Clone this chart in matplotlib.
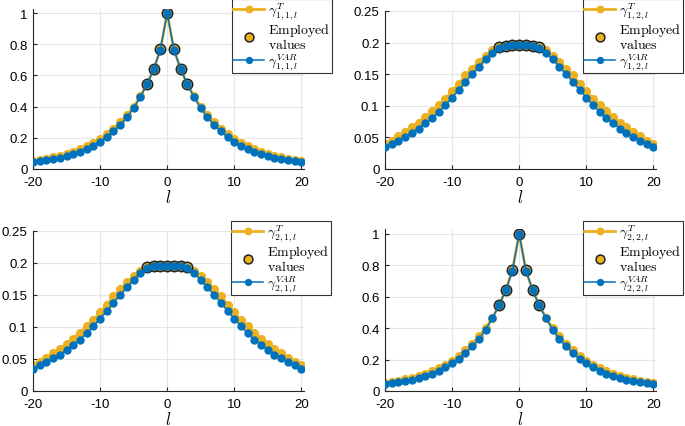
import numpy as np
import matplotlib.pyplot as plt

# lags shown on the x axis
lags = np.arange(-20, 21)

# gamma_{1,1,l} (l = -20 .. 20)
g11_T = [0.051, 0.058, 0.065, 0.074, 0.084, 0.096, 0.110, 0.127, 0.146, 0.168,
         0.193, 0.222, 0.258, 0.300, 0.347, 0.400, 0.466, 0.546, 0.642, 0.768,
         1.000,
         0.768, 0.642, 0.546, 0.466, 0.400, 0.347, 0.300, 0.258, 0.222, 0.193,
         0.168, 0.146, 0.127, 0.110, 0.096, 0.084, 0.074, 0.065, 0.058, 0.051]
g11_var = [0.043, 0.049, 0.056, 0.063, 0.072, 0.083, 0.095, 0.110, 0.128, 0.150,
           0.175, 0.206, 0.242, 0.284, 0.331, 0.390, 0.461, 0.544, 0.640, 0.766,
           1.000,
           0.766, 0.640, 0.544, 0.461, 0.390, 0.331, 0.284, 0.242, 0.206, 0.175,
           0.150, 0.128, 0.110, 0.095, 0.083, 0.072, 0.063, 0.056, 0.049, 0.043]

# gamma_{1,2,l}
g12_T = [0.040, 0.045, 0.052, 0.059, 0.066, 0.073, 0.082, 0.091, 0.101, 0.111,
         0.123, 0.135, 0.148, 0.159, 0.170, 0.179, 0.188, 0.193, 0.195, 0.196,
         0.196,
         0.196, 0.195, 0.193, 0.188, 0.179, 0.170, 0.159, 0.148, 0.135, 0.123,
         0.111, 0.101, 0.091, 0.082, 0.073, 0.066, 0.059, 0.052, 0.045, 0.040]
g12_var = [0.035, 0.040, 0.045, 0.051, 0.057, 0.064, 0.072, 0.080, 0.090, 0.101,
           0.113, 0.125, 0.138, 0.150, 0.162, 0.174, 0.184, 0.192, 0.195, 0.196,
           0.196,
           0.196, 0.195, 0.192, 0.184, 0.174, 0.162, 0.150, 0.138, 0.125, 0.113,
           0.101, 0.090, 0.080, 0.072, 0.064, 0.057, 0.051, 0.045, 0.040, 0.035]

# the lower panels look the same as the upper ones
g21_T, g21_var = g12_T, g12_var
g22_T, g22_var = g11_T, g11_var

employed_lags = [-3, -2, -1, 0, 1, 2, 3]

YELLOW = '#EDB120'
BLUE = '#0072BD'

plt.rcParams['font.family'] = 'Liberation Sans'
plt.rcParams['mathtext.fontset'] = 'cm'
plt.rcParams['axes.unicode_minus'] = False

fig = plt.figure(figsize=(6.85, 4.27), dpi=100)
W, H = 685, 427


def px_axes(left, top, right, bottom):
    return fig.add_axes([left / W, 1 - bottom / H, (right - left) / W, (bottom - top) / H])


panels = [
    # (box in px, T, VAR, idx, ylim, yticks, legend right/top px)
    ((33, 10, 304, 170), g11_T, g11_var, '1,1', 1.026, np.arange(0, 1.01, 0.2), (332, 0)),
    ((385, 12, 656, 170), g12_T, g12_var, '1,2', 0.25, np.arange(0, 0.251, 0.05), (683, 0)),
    ((33, 232, 304, 392), g21_T, g21_var, '2,1', 0.25, np.arange(0, 0.251, 0.05), (331, 222)),
    ((385, 230, 656, 392), g22_T, g22_var, '2,2', 1.03, np.arange(0, 1.01, 0.2), (683, 222)),
]

for box, gT, gV, idx, ytop, yticks, (lx, ly) in panels:
    ax = px_axes(*box)
    gT = np.array(gT)
    gV = np.array(gV)
    emp = np.isin(lags, employed_lags)

    ax.plot(lags, gT, '-o', color=YELLOW, lw=2, ms=5.5, zorder=2,
            label=r'$\gamma^{T}_{%s,l}$' % idx)
    ax.plot(lags[emp], gT[emp], 'o', color=YELLOW, mec='#222222', mew=1.1, ms=7.5,
            zorder=3, label=r'$\mathrm{Employed}$' + '\n' + r'$\mathrm{values}$')
    ax.plot(lags, gV, '-o', color=BLUE, lw=1.1, ms=5, zorder=4,
            label=r'$\gamma^{VAR}_{%s,l}$' % idx)

    ax.set_xlim(-20, 20.4)
    ax.set_ylim(0, ytop)
    ax.set_xticks([-20, -10, 0, 10, 20])
    ax.set_yticks(yticks)
    ax.set_yticklabels(['%g' % round(v, 2) for v in yticks])
    ax.grid(True, color='#e6e6e6', lw=0.8)
    ax.set_axisbelow(True)
    for s in ['top', 'right']:
        ax.spines[s].set_visible(False)
    for s in ['left', 'bottom']:
        ax.spines[s].set_color('#262626')
        ax.spines[s].set_linewidth(0.8)
    ax.tick_params(direction='in', length=3, labelsize=9.5, colors='#262626',
                   labelcolor='black')
    ax.tick_params(axis='x', pad=5)
    ax.tick_params(axis='y', pad=4)
    ax.set_xlabel(r'$l$', fontsize=12, labelpad=0)

    leg = ax.legend(loc='upper right', bbox_to_anchor=(lx / W, 1 - ly / H),
                    bbox_transform=fig.transFigure, borderaxespad=0,
                    fancybox=False, framealpha=1, edgecolor='#333333',
                    fontsize=10, handlelength=2.2, handletextpad=0.3,
                    labelspacing=0.0, borderpad=0.1, markerscale=0.85)
    leg.get_texts()[1].set_linespacing(0.95)
    leg.get_frame().set_linewidth(0.8)
    leg.set_zorder(10)

fig.savefig('out.png', dpi=100)
